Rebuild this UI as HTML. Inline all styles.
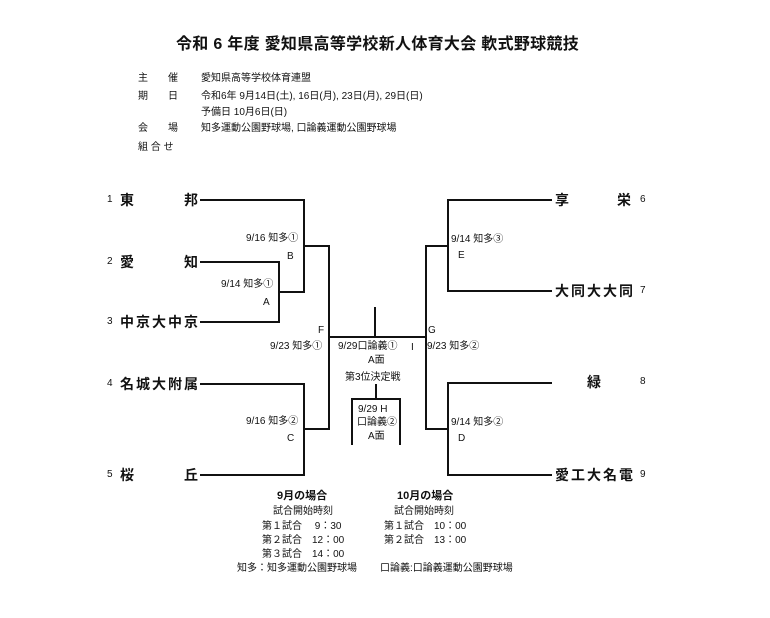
<!DOCTYPE html>
<html><head><meta charset="utf-8"><style>
body{margin:0;background:#fff;width:770px;height:618px;position:relative;overflow:hidden;font-family:"Liberation Sans","Noto Sans CJK JP",sans-serif;color:#111}
.t{position:absolute;white-space:nowrap;line-height:1}
.s{font-size:10px}
.n{font-size:14px;font-weight:bold}
.h{position:absolute;background:#111;height:2px}
.v{position:absolute;background:#111;width:2px}
</style></head><body>
<div class="t" style="left:176px;top:37px;font-size:16px;font-weight:bold;letter-spacing:0.3px">令和 6 年度 愛知県高等学校新人体育大会 軟式野球競技</div>
<div class="t s" style="left:138px;top:74px">主　　催</div><div class="t s" style="left:201px;top:74px">愛知県高等学校体育連盟</div>
<div class="t s" style="left:138px;top:92px">期　　日</div><div class="t s" style="left:201px;top:92px">令和6年 9月14日(土), 16日(月), 23日(月), 29日(日)</div>
<div class="t s" style="left:201px;top:108px">予備日 10月6日(日)</div>
<div class="t s" style="left:138px;top:124px">会　　場</div><div class="t s" style="left:201px;top:124px">知多運動公園野球場, 口論義運動公園野球場</div>
<div class="t s" style="left:138px;top:143px">組 合 せ</div>

<div class="t s" style="left:107px;top:195px">1</div><div class="t n" style="left:120px;top:193px">東</div><div class="t n" style="left:184px;top:193px">邦</div>
<div class="t s" style="left:107px;top:257px">2</div><div class="t n" style="left:120px;top:255px">愛</div><div class="t n" style="left:184px;top:255px">知</div>
<div class="t s" style="left:107px;top:317px">3</div><div class="t n" style="left:120px;top:315px;letter-spacing:2px">中京大中京</div>
<div class="t s" style="left:107px;top:379px">4</div><div class="t n" style="left:120px;top:377px;letter-spacing:2px">名城大附属</div>
<div class="t s" style="left:107px;top:470px">5</div><div class="t n" style="left:120px;top:468px">桜</div><div class="t n" style="left:184px;top:468px">丘</div>

<div class="t n" style="left:555px;top:193px">享</div><div class="t n" style="left:617px;top:193px">栄</div><div class="t s" style="left:640px;top:195px">6</div>
<div class="t n" style="left:555px;top:284px;letter-spacing:2px">大同大大同</div><div class="t s" style="left:640px;top:286px">7</div>
<div class="t n" style="left:587px;top:375px">緑</div><div class="t s" style="left:640px;top:377px">8</div>
<div class="t n" style="left:555px;top:468px;letter-spacing:2px">愛工大名電</div><div class="t s" style="left:640px;top:470px">9</div>

<!-- left lines -->
<div class="h" style="left:200px;top:199px;width:105px"></div>
<div class="h" style="left:200px;top:261px;width:80px"></div>
<div class="h" style="left:200px;top:321px;width:80px"></div>
<div class="v" style="left:278px;top:261px;height:62px"></div>
<div class="h" style="left:278px;top:291px;width:27px"></div>
<div class="v" style="left:303px;top:199px;height:94px"></div>
<div class="h" style="left:303px;top:245px;width:27px"></div>
<div class="h" style="left:200px;top:383px;width:105px"></div>
<div class="h" style="left:200px;top:474px;width:105px"></div>
<div class="v" style="left:303px;top:383px;height:93px"></div>
<div class="h" style="left:303px;top:428px;width:27px"></div>
<div class="v" style="left:328px;top:245px;height:185px"></div>
<div class="h" style="left:328px;top:336px;width:99px"></div>
<div class="v" style="left:374px;top:307px;height:30px"></div>
<!-- right lines -->
<div class="h" style="left:448px;top:199px;width:104px"></div>
<div class="h" style="left:448px;top:290px;width:104px"></div>
<div class="v" style="left:447px;top:199px;height:93px"></div>
<div class="h" style="left:425px;top:245px;width:24px"></div>
<div class="h" style="left:448px;top:382px;width:104px"></div>
<div class="h" style="left:448px;top:474px;width:104px"></div>
<div class="v" style="left:447px;top:382px;height:94px"></div>
<div class="h" style="left:425px;top:428px;width:24px"></div>
<div class="v" style="left:425px;top:245px;height:185px"></div>
<!-- 3rd place -->
<div class="v" style="left:375px;top:384px;height:15px"></div>
<div class="h" style="left:351px;top:398px;width:50px"></div>
<div class="v" style="left:351px;top:398px;height:47px"></div>
<div class="v" style="left:399px;top:398px;height:47px"></div>

<div class="t s" style="left:246px;top:234px">9/16 知多①</div><div class="t s" style="left:287px;top:252px">B</div>
<div class="t s" style="left:221px;top:280px">9/14 知多①</div><div class="t s" style="left:263px;top:298px">A</div>
<div class="t s" style="left:318px;top:326px">F</div>
<div class="t s" style="left:270px;top:342px">9/23 知多①</div>
<div class="t s" style="left:246px;top:417px">9/16 知多②</div><div class="t s" style="left:287px;top:434px">C</div>
<div class="t s" style="left:338px;top:342px">9/29口論義①</div><div class="t s" style="left:411px;top:343px">I</div>
<div class="t s" style="left:368px;top:356px">A面</div>
<div class="t s" style="left:345px;top:373px">第3位決定戦</div>
<div class="t s" style="left:358px;top:405px">9/29 H</div>
<div class="t s" style="left:357px;top:418px">口論義②</div>
<div class="t s" style="left:368px;top:432px">A面</div>
<div class="t s" style="left:428px;top:326px">G</div>
<div class="t s" style="left:427px;top:342px">9/23 知多②</div>
<div class="t s" style="left:451px;top:235px">9/14 知多③</div><div class="t s" style="left:458px;top:251px">E</div>
<div class="t s" style="left:451px;top:418px">9/14 知多②</div><div class="t s" style="left:458px;top:434px">D</div>

<div class="t" style="left:277px;top:491px;font-size:11px;font-weight:bold">9月の場合</div>
<div class="t s" style="left:273px;top:507px">試合開始時刻</div>
<div class="t s" style="left:262px;top:522px">第１試合　 9：30</div>
<div class="t s" style="left:262px;top:536px">第２試合　12：00</div>
<div class="t s" style="left:262px;top:550px">第３試合　14：00</div>
<div class="t s" style="left:237px;top:564px">知多：知多運動公園野球場</div>
<div class="t" style="left:397px;top:491px;font-size:11px;font-weight:bold">10月の場合</div>
<div class="t s" style="left:394px;top:507px">試合開始時刻</div>
<div class="t s" style="left:384px;top:522px">第１試合　10：00</div>
<div class="t s" style="left:384px;top:536px">第２試合　13：00</div>
<div class="t s" style="left:380px;top:564px">口論義:口論義運動公園野球場</div>
</body></html>
